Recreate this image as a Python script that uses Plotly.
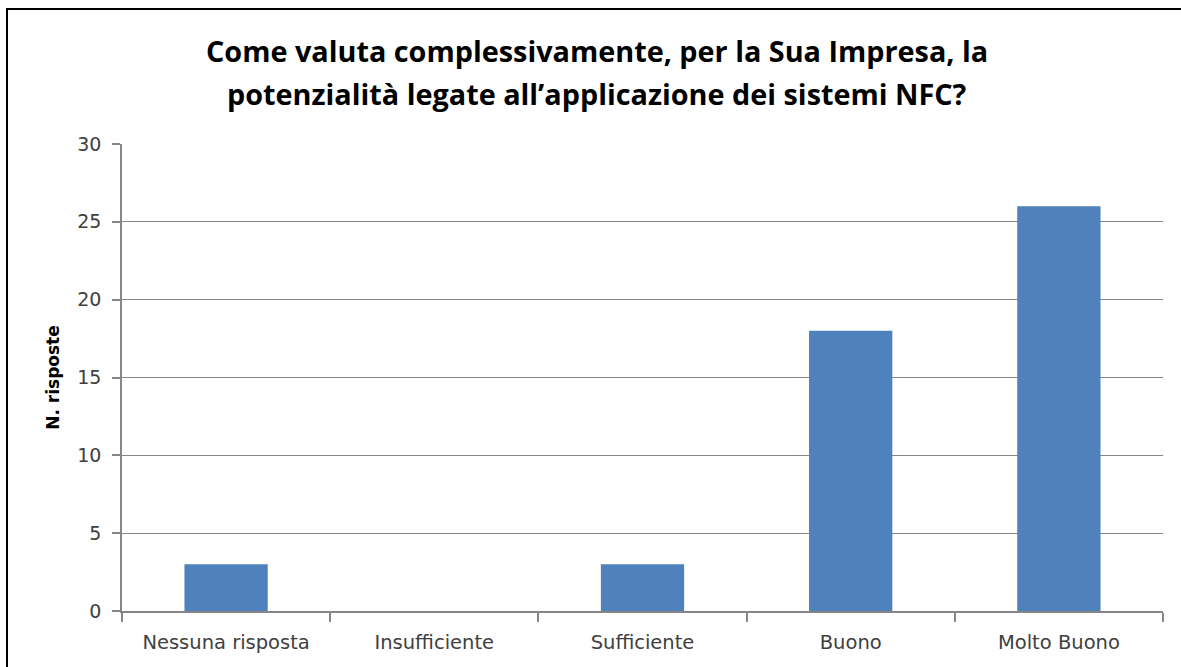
import plotly.graph_objects as go

categories = ["Nessuna risposta", "Insufficiente", "Sufficiente", "Buono", "Molto Buono"]
values = [3, 0, 3, 18, 26]
y_ticks = [0, 5, 10, 15, 20, 25, 30]
title_lines = ["Come valuta complessivamente, per la Sua Impresa, la",
               "potenzialità legate all’applicazione dei sistemi NFC?"]

W, H = 1181, 667
L, R, T, B = 122, 18, 144, 56
pw, ph = W - L - R, H - T - B

fig = go.Figure(go.Bar(x=categories, y=values, marker=dict(color="#4F81BD", line=dict(width=0)), width=0.4))

fig.update_layout(
    width=W, height=H,
    margin=dict(l=L, r=R, t=T, b=B),
    paper_bgcolor="white", plot_bgcolor="white",
    showlegend=False,
    font=dict(family="DejaVu Sans", size=18, color="#404040"),
)
for line, yc in zip(title_lines, [50, 93]):
    fig.add_annotation(
        text="<b>" + line + "</b>", showarrow=False,
        xref="paper", yref="paper",
        x=(597 - L) / pw, xanchor="center",
        y=(H - B - yc) / ph, yanchor="middle",
        font=dict(family="Open Sans", size=28.8, color="#000000"),
    )
fig.update_xaxes(
    showline=True, linecolor="#868686", linewidth=1.5,
    ticks="outside", tickson="boundaries", ticklen=9, tickcolor="#868686", tickwidth=1.5,
    ticklabelstandoff=13,
    showgrid=False, tickfont=dict(family="DejaVu Sans", size=19.5, color="#404040"),
)
fig.update_yaxes(
    range=[0, 30], tickvals=y_ticks, showgrid=True, gridcolor="#868686", gridwidth=1.2,
    showline=True, linecolor="#868686", linewidth=1.5,
    ticks="outside", ticklen=8, tickcolor="#868686", tickwidth=1.5,
    ticklabelstandoff=7,
    tickfont=dict(family="DejaVu Sans", size=19, color="#404040"),
    title=dict(text="<b>N. risposte</b>", font=dict(family="DejaVu Sans", size=17, color="#000000"), standoff=13),
    zeroline=False,
)
# chart border (left and top edges)
x0 = (7 - L) / pw
x1 = (W + 5 - L) / pw
ytop = (H - B - 9) / ph
ybot = (H - B - (H + 5)) / ph
fig.add_shape(type="rect", xref="paper", yref="paper", x0=x0, x1=x1, y0=ybot, y1=ytop,
              line=dict(color="#000000", width=2), fillcolor="rgba(0,0,0,0)", layer="above")

fig.write_html("out.html", config={"displayModeBar": False},
               post_script="document.body.style.margin='0';")
